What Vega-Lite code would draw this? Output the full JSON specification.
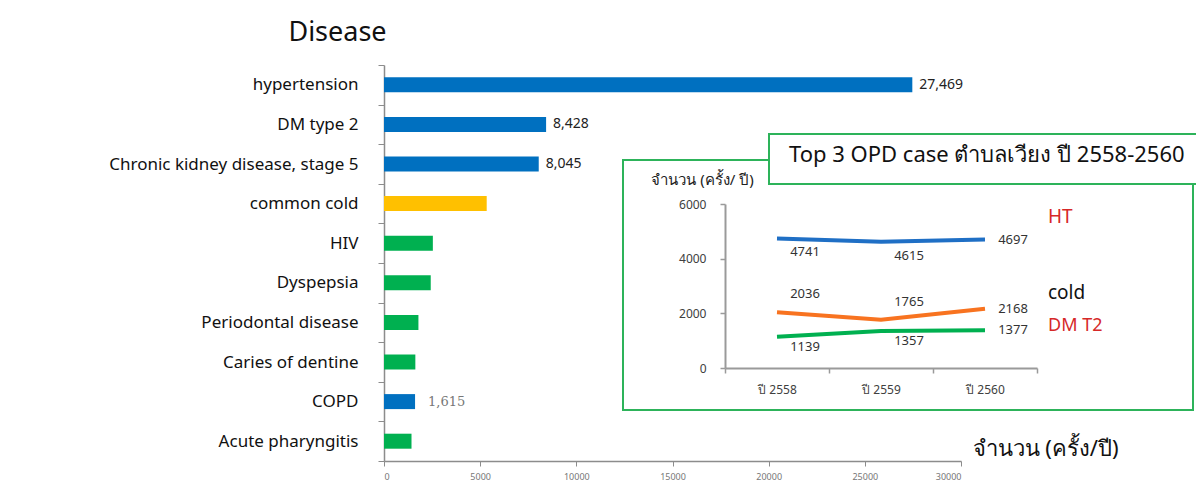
{
  "$schema": "https://vega.github.io/schema/vega-lite/v6.json",
  "width": 577,
  "height": 396,
  "autosize": {"type": "none"},
  "padding": {"left": 384, "top": 65, "right": 235, "bottom": 22},
  "background": "white",
  "config": {
    "view": {"stroke": null},
    "font": "Noto Sans, Tahoma, sans-serif",
    "axis": {"grid": false}
  },
  "datasets": {
    "diseases": [
      {"disease": "hypertension", "cases": 27469, "group": "NCD"},
      {"disease": "DM type 2", "cases": 8428, "group": "NCD"},
      {"disease": "Chronic kidney disease, stage 5", "cases": 8045, "group": "NCD"},
      {"disease": "common cold", "cases": 5340, "group": "cold"},
      {"disease": "HIV", "cases": 2540, "group": "other"},
      {"disease": "Dyspepsia", "cases": 2430, "group": "other"},
      {"disease": "Periodontal disease", "cases": 1790, "group": "other"},
      {"disease": "Caries of dentine", "cases": 1630, "group": "other"},
      {"disease": "COPD", "cases": 1615, "group": "NCD"},
      {"disease": "Acute pharyngitis", "cases": 1430, "group": "other"}
    ],
    "opd": [
      {"year": "ปี 2558", "series": "HT", "cases": 4741},
      {"year": "ปี 2559", "series": "HT", "cases": 4615},
      {"year": "ปี 2560", "series": "HT", "cases": 4697},
      {"year": "ปี 2558", "series": "cold", "cases": 2036},
      {"year": "ปี 2559", "series": "cold", "cases": 1765},
      {"year": "ปี 2560", "series": "cold", "cases": 2168},
      {"year": "ปี 2558", "series": "DM T2", "cases": 1139},
      {"year": "ปี 2559", "series": "DM T2", "cases": 1357},
      {"year": "ปี 2560", "series": "DM T2", "cases": 1377}
    ]
  },
  "layer": [
    {
      "data": {"name": "diseases"},
      "encoding": {
        "y": {
          "field": "disease",
          "type": "nominal",
          "sort": null,
          "scale": {"paddingInner": 0, "paddingOuter": 0},
          "axis": {
            "title": "Disease",
            "titleAngle": 0,
            "titleX": -47,
            "titleY": -33,
            "titleAlign": "center",
            "titleBaseline": "middle",
            "titleFontSize": 27,
            "titleFontWeight": "normal",
            "titleColor": "#111",
            "labelFontSize": 17,
            "labelLimit": 0,
            "labelColor": "#111",
            "labelPadding": 20,
            "tickBand": "extent",
            "tickSize": 6,
            "domainColor": "#8c8c8c",
            "tickColor": "#8c8c8c",
            "domainWidth": 1.5
          }
        },
        "x": {
          "field": "cases",
          "type": "quantitative",
          "scale": {"domain": [0, 30000], "nice": false},
          "axis": {
            "values": [0, 5000, 10000, 15000, 20000, 25000, 30000],
            "format": "d",
            "title": "จำนวน (ครั้ง/ปี)",
            "titleX": 588,
            "titleY": -13,
            "titleAlign": "left",
            "titleBaseline": "middle",
            "titleFontSize": 22,
            "titleFontWeight": "normal",
            "titleColor": "#111",
            "labelFontSize": 9,
            "labelColor": "#777",
            "labelPadding": 6,
            "tickSize": 5,
            "domainColor": "#8c8c8c",
            "tickColor": "#8c8c8c",
            "domainWidth": 1.5
          }
        }
      },
      "layer": [
        {
          "mark": {"type": "bar", "size": 15},
          "encoding": {
            "color": {
              "field": "group",
              "type": "nominal",
              "scale": {"domain": ["NCD", "cold", "other"], "range": ["#0070C0", "#FFC000", "#00B050"]},
              "legend": null
            }
          }
        },
        {
          "transform": [{"filter": {"field": "disease", "oneOf": ["hypertension", "DM type 2", "Chronic kidney disease, stage 5"]}}],
          "mark": {"type": "text", "align": "left", "baseline": "middle", "dx": 7, "fontSize": 14, "fill": "#222"},
          "encoding": {"text": {"field": "cases", "type": "quantitative", "format": ","}}
        },
        {
          "transform": [{"filter": {"field": "disease", "equal": "COPD"}}],
          "mark": {"type": "text", "align": "left", "baseline": "middle", "dx": 13, "fontSize": 13, "font": "DejaVu Serif", "fill": "#777"},
          "encoding": {"text": {"field": "cases", "type": "quantitative", "format": ","}}
        }
      ]
    },
    {
      "data": {"values": [{}]},
      "mark": {"type": "rect", "fill": null, "stroke": "#2DB35A", "strokeWidth": 2},
      "encoding": {
        "x": {"datum": 0, "type": "quantitative", "scale": {"domain": [0, 1], "range": [239, 809]}, "axis": null},
        "x2": {"datum": 1},
        "y": {"datum": 0, "type": "quantitative", "scale": {"domain": [0, 1], "range": [95, 345]}, "axis": null},
        "y2": {"datum": 1}
      }
    },
    {
      "data": {"values": [{}]},
      "encoding": {
        "x": {"datum": 0, "type": "quantitative", "scale": {"domain": [0, 1], "range": [385, 830]}, "axis": null},
        "y": {"datum": 0, "type": "quantitative", "scale": {"domain": [0, 1], "range": [69, 119]}, "axis": null}
      },
      "layer": [
        {
          "mark": {"type": "rect", "fill": "white", "stroke": "#2DB35A", "strokeWidth": 2},
          "encoding": {"x2": {"datum": 1}, "y2": {"datum": 1}}
        },
        {
          "mark": {"type": "text", "align": "left", "baseline": "middle", "dx": 20, "dy": -4, "fontSize": 22, "fill": "#111"},
          "encoding": {"y": {"datum": 0.5, "type": "quantitative"}, "text": {"value": "Top 3 OPD case ตำบลเวียง ปี 2558-2560"}}
        }
      ]
    },
    {
      "data": {"name": "opd"},
      "encoding": {
        "x": {
          "field": "year",
          "type": "ordinal",
          "bandPosition": 0.5,
          "scale": {"type": "band", "range": [341, 653], "paddingInner": 0, "paddingOuter": 0},
          "axis": {
            "orient": "bottom",
            "offset": -93,
            "title": null,
            "tickBand": "extent",
            "labelAngle": 0,
            "labelFontSize": 12,
            "labelColor": "#404040",
            "labelPadding": 11,
            "tickSize": 5,
            "domainColor": "#9a9a9a",
            "tickColor": "#9a9a9a",
            "domainWidth": 2,
            "tickWidth": 1.5
          }
        },
        "y": {
          "field": "cases",
          "type": "quantitative",
          "scale": {"domain": [0, 6000], "range": [303, 139], "nice": false},
          "axis": {
            "orient": "left",
            "offset": -341,
            "values": [0, 2000, 4000, 6000],
            "format": "d",
            "title": "จำนวน (ครั้ง/ ปี)",
            "titleAngle": 0,
            "titleX": -23,
            "titleY": 114,
            "titleAlign": "center",
            "titleBaseline": "middle",
            "titleFontSize": 15,
            "titleFontWeight": "normal",
            "titleColor": "#222",
            "labelFontSize": 12,
            "labelColor": "#404040",
            "labelPadding": 14,
            "tickSize": 5,
            "domainColor": "#9a9a9a",
            "tickColor": "#9a9a9a",
            "domainWidth": 2,
            "tickWidth": 1.5
          }
        }
      },
      "layer": [
        {
          "mark": {"type": "line", "strokeWidth": 4},
          "encoding": {
            "color": {
              "field": "series",
              "type": "nominal",
              "scale": {"domain": ["HT", "cold", "DM T2"], "range": ["#1F6FC5", "#F87320", "#00B050"]},
              "legend": null
            }
          }
        },
        {
          "transform": [{"filter": "datum.year !== 'ปี 2560' && datum.series === 'HT'"}],
          "mark": {"type": "text", "align": "center", "baseline": "middle", "dx": 28, "dy": 14, "fontSize": 13, "fill": "#333"},
          "encoding": {"text": {"field": "cases", "type": "quantitative", "format": "d"}}
        },
        {
          "transform": [{"filter": "datum.year !== 'ปี 2560' && datum.series === 'cold'"}],
          "mark": {"type": "text", "align": "center", "baseline": "middle", "dx": 28, "dy": -18, "fontSize": 13, "fill": "#333"},
          "encoding": {"text": {"field": "cases", "type": "quantitative", "format": "d"}}
        },
        {
          "transform": [{"filter": "datum.year !== 'ปี 2560' && datum.series === 'DM T2'"}],
          "mark": {"type": "text", "align": "center", "baseline": "middle", "dx": 28, "dy": 10, "fontSize": 13, "fill": "#333"},
          "encoding": {"text": {"field": "cases", "type": "quantitative", "format": "d"}}
        },
        {
          "transform": [{"filter": "datum.year === 'ปี 2560'"}],
          "mark": {"type": "text", "align": "center", "baseline": "middle", "dx": 28, "dy": 0, "fontSize": 13, "fill": "#333"},
          "encoding": {"text": {"field": "cases", "type": "quantitative", "format": "d"}}
        },
        {
          "transform": [{"filter": "datum.year === 'ปี 2560' && datum.series === 'HT'"}],
          "mark": {"type": "text", "align": "left", "baseline": "middle", "dx": 63, "dy": -23, "fontSize": 19, "fill": "#D62828"},
          "encoding": {"text": {"field": "series", "type": "nominal"}}
        },
        {
          "transform": [{"filter": "datum.year === 'ปี 2560' && datum.series === 'cold'"}],
          "mark": {"type": "text", "align": "left", "baseline": "middle", "dx": 63, "dy": -16, "fontSize": 19, "fill": "#111"},
          "encoding": {"text": {"field": "series", "type": "nominal"}}
        },
        {
          "transform": [{"filter": "datum.year === 'ปี 2560' && datum.series === 'DM T2'"}],
          "mark": {"type": "text", "align": "left", "baseline": "middle", "dx": 63, "dy": -4, "fontSize": 18, "fill": "#D62828"},
          "encoding": {"text": {"field": "series", "type": "nominal"}}
        }
      ]
    }
  ],
  "resolve": {"scale": {"x": "independent", "y": "independent", "color": "independent"}}
}
